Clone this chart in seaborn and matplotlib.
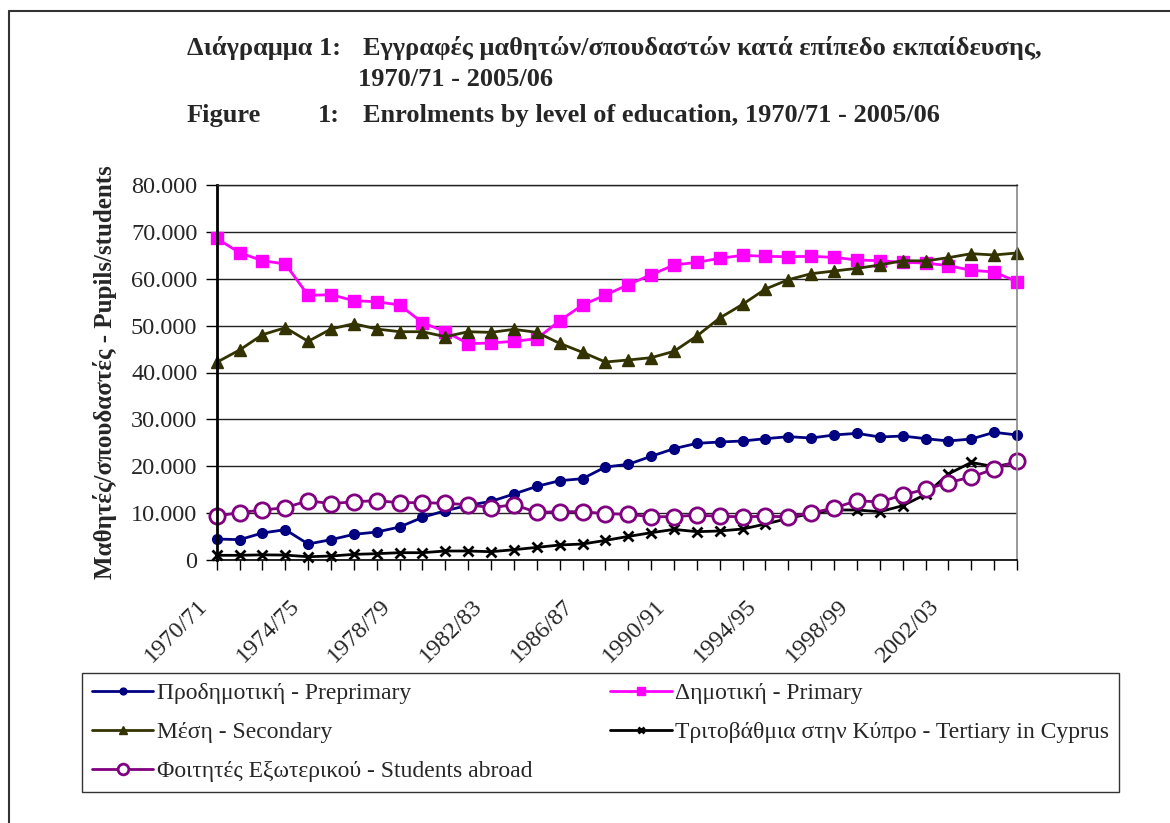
import matplotlib
matplotlib.use("Agg")
import matplotlib.pyplot as plt
from matplotlib.lines import Line2D
from matplotlib.ticker import FuncFormatter
from matplotlib.transforms import ScaledTranslation
import seaborn as sns
import numpy as np

years = [f"{y}/{str(y + 1)[-2:]}" for y in range(1970, 2006)]

preprimary = [4480, 4340, 5760, 6470, 3410, 4340, 5470, 5970, 7040, 9100,
              10520, 11660, 12510, 14080, 15710, 16920, 17350, 19840, 20410, 22120,
              23750, 24890, 25170, 25390, 25880, 26310, 26020, 26670, 27020, 26240,
              26450, 25880, 25390, 25810, 27240, 26670]
primary = [68600, 65560, 63850, 63150, 56460, 56600, 55320, 55100, 54400, 50630,
           48700, 46150, 46300, 46650, 47200, 51050, 54400, 56530, 58730, 60860,
           62930, 63500, 64360, 65000, 64780, 64700, 64780, 64570, 64000, 63850,
           63500, 63360, 62790, 61800, 61440, 59380]
secondary = [42170, 44800, 48060, 49560, 46650, 49280, 50410, 49280, 48700, 48700,
             47640, 48700, 48560, 49210, 48560, 46220, 44300, 42240, 42670, 43160,
             44520, 47790, 51630, 54540, 57810, 59800, 61080, 61650, 62220, 62930,
             63850, 63800, 64500, 65350, 65070, 65500]
tertiary = [1000, 1000, 1100, 1050, 700, 850, 1200, 1350, 1560, 1560,
            1920, 1920, 1770, 2200, 2690, 3200, 3410, 4180, 5030, 5820,
            6530, 6040, 6190, 6610, 7680, 8870, 9940, 10670, 10670, 10300,
            11580, 14000, 18350, 20820, 19900, 20800]
abroad = [9390, 10100, 10670, 11160, 12650, 12010, 12440, 12650, 12230, 12230,
          12090, 11800, 11160, 11800, 10170, 10310, 10310, 9880, 9740, 9240,
          9240, 9600, 9310, 9240, 9310, 9240, 10030, 11090, 12650, 12370,
          13870, 15080, 16500, 17700, 19410, 21120]

labels = ["Προδημοτική - Preprimary", "Δημοτική - Primary", "Μέση - Secondary",
          "Τριτοβάθμια στην Κύπρο - Tertiary in Cyprus",
          "Φοιτητές Εξωτερικού - Students abroad"]

sns.set_style("white")
plt.rcParams['font.family'] = ['Liberation Serif', 'DejaVu Serif']

W, H = 1170, 823
fig = plt.figure(figsize=(W / 100, H / 100), dpi=100)
ax = fig.add_axes([216.7 / W, 1 - 560 / H, (1017 - 216.7) / W, (560 - 185) / H])

x = np.arange(len(years))
lw = 2.0
styles = [
    (preprimary, dict(color="#000080", marker="o", markersize=7,
                      markerfacecolor="#000080", markeredgecolor="#000080", markeredgewidth=1)),
    (primary, dict(color="#FF00FF", marker="s", markersize=8,
                   markerfacecolor="#FF00FF", markeredgecolor="#FF00FF", markeredgewidth=1)),
    (secondary, dict(color="#333300", marker="^", markersize=8.5,
                     markerfacecolor="#333300", markeredgecolor="#333300", markeredgewidth=1)),
    (tertiary, dict(color="black", marker="x", markersize=7,
                    markeredgecolor="black", markeredgewidth=2)),
    (abroad, dict(color="#800080", marker="o", markersize=11,
                  markerfacecolor="white", markeredgecolor="#800080", markeredgewidth=2)),
]
for (vals, kw), lab in zip(styles, labels):
    sns.lineplot(x=x, y=vals, ax=ax, linewidth=lw, label=lab, clip_on=False, **kw)

ax.set_xlim(0, len(years) - 1)
ax.set_ylim(0, 80000)
ax.set_yticks(range(0, 80001, 10000))
ax.yaxis.set_major_formatter(FuncFormatter(lambda v, p: f"{v:,.0f}".replace(",", ".")))
ax.grid(axis="y", color="#222222", linewidth=1)
ax.set_axisbelow(True)

ax.set_xticks(x)
ax.set_xticklabels([years[i] if i % 4 == 0 else "" for i in range(len(years))],
                   rotation=45, ha="right", va="center", rotation_mode="anchor")
ax.tick_params(axis="x", direction="out", length=7, width=1, color="black",
               labelsize=17.5, pad=24, bottom=True)
ax.tick_params(axis="y", direction="out", length=8, width=1, color="black",
               labelsize=17.5, pad=6, left=True)
shift = ScaledTranslation(-12 / 100, 0, fig.dpi_scale_trans)
for t in ax.get_xticklabels():
    t.set_transform(t.get_transform() + shift)

ax.spines["top"].set_color("#222222")
ax.spines["top"].set_linewidth(1)
ax.spines["right"].set_color("#888888")
ax.spines["right"].set_linewidth(1.2)
ax.spines["left"].set_color("black")
ax.spines["left"].set_linewidth(2)
ax.spines["bottom"].set_color("black")
ax.spines["bottom"].set_linewidth(1.2)

ax.set_ylabel("Μαθητές/σπουδαστές - Pupils/students", fontsize=18,
              fontweight="bold", labelpad=10)
ax.set_xlabel("")

# legend ordered row by row like the original
h, l = ax.get_legend_handles_labels()
order = [0, 2, 4, 1, 3]
leg = ax.legend([h[i] for i in order], [l[i] for i in order], ncol=2,
                loc="upper left", bbox_to_anchor=(82 / W, 1 - 673 / H),
                bbox_transform=fig.transFigure, fontsize=17, frameon=True,
                fancybox=False, edgecolor="black", borderpad=0.42,
                handlelength=2.6, handletextpad=0.15, labelspacing=0.73,
                columnspacing=3.3, borderaxespad=0, markerscale=0.7)
leg.get_frame().set_linewidth(1)

# titles
tk = dict(fontsize=19, fontweight="bold", transform=fig.transFigure, va="baseline")
fig.text(187 / W, 1 - 55 / H, "Διάγραμμα 1:", **tk)
fig.text(363 / W, 1 - 55 / H, "Εγγραφές μαθητών/σπουδαστών κατά επίπεδο εκπαίδευσης,", **tk)
fig.text(358 / W, 1 - 86 / H, "1970/71 - 2005/06", **tk)
fig.text(187 / W, 1 - 122 / H, "Figure", **tk)
fig.text(318 / W, 1 - 122 / H, "1:", **tk)
fig.text(363 / W, 1 - 122 / H, "Enrolments by level of education, 1970/71 - 2005/06", **tk)

# outer frame (top and left edges visible)
fig.add_artist(Line2D([9 / W, 1.0], [1 - 11 / H, 1 - 11 / H], color="#333333",
                      linewidth=1.5, transform=fig.transFigure))
fig.add_artist(Line2D([9 / W, 9 / W], [0, 1 - 11 / H], color="#333333",
                      linewidth=1.5, transform=fig.transFigure))

fig.savefig("out.png", dpi=100)
